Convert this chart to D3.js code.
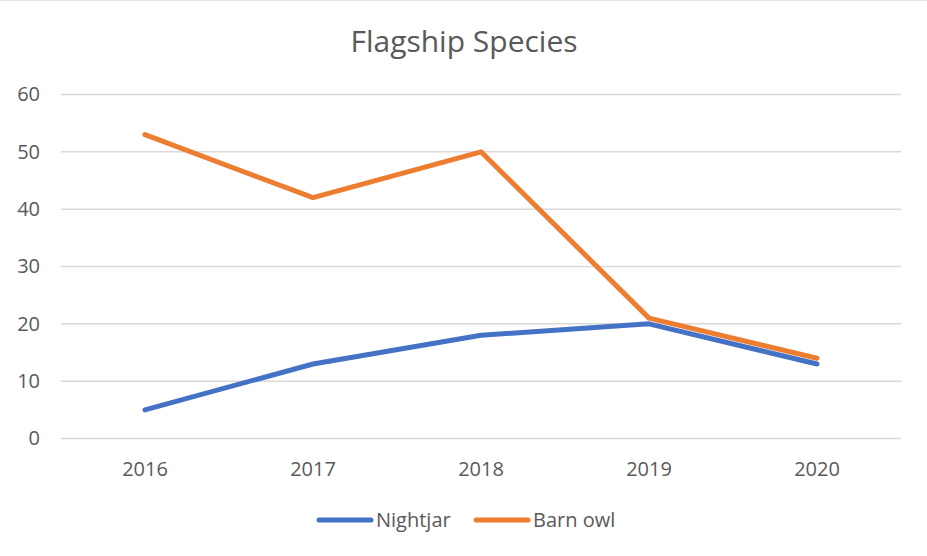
<!DOCTYPE html>
<html>
<head>
<meta charset="utf-8">
<script src="https://cdn.jsdelivr.net/npm/d3@7"></script>
<style>
  body { margin: 0; background: #fff; }
  svg { display: block; font-family: "Open Sans", "Noto Sans", sans-serif; }
</style>
</head>
<body>
<div id="root"></div>
<script>
const years = ["2016", "2017", "2018", "2019", "2020"];
const nightjar = [5, 13, 18, 20, 13];
const barnOwl = [53, 42, 50, 21, 14];
const yTicks = [0, 10, 20, 30, 40, 50, 60];

const seriesNames = ["Nightjar", "Barn owl"];
const seriesColors = ["#4472c4", "#ed7d31"];

const w = 927;
const h = 556;
const margin = { top: 95, bottom: 117, left: 61, right: 26 };

const svg = d3.select("#root")
    .append("svg")
    .attr("width", w)
    .attr("height", h);

// light border line on top of the image
svg.append("line")
    .attr("x1", 0).attr("x2", w)
    .attr("y1", 0.5).attr("y2", 0.5)
    .attr("stroke", "#e3e3e3");

// title
svg.append("text")
    .attr("x", 464)
    .attr("y", 52)
    .attr("text-anchor", "middle")
    .attr("fill", "#595959")
    .style("font-size", "30px")
    .text("Flagship Species");

const xScale = d3.scaleBand()
    .domain(years)
    .range([margin.left, w - margin.right]);

const yScale = d3.scaleLinear()
    .domain([0, 60])
    .range([h - margin.bottom - 0.5, margin.top - 0.5]);

// gridlines
svg.append("g")
    .selectAll("line")
    .data(yTicks)
    .enter()
    .append("line")
    .attr("x1", margin.left)
    .attr("x2", w - margin.right)
    .attr("y1", d => yScale(d))
    .attr("y2", d => yScale(d))
    .attr("stroke", "#d9d9d9")
    .attr("stroke-width", 1.5);

// y-axis labels
const yAxis = d3.axisLeft(yScale).tickValues(yTicks).tickSize(0).tickPadding(0);
svg.append("g")
    .attr("transform", "translate(" + 40 + ",0)")
    .call(yAxis)
    .call(g => g.select(".domain").remove())
    .call(g => g.selectAll("text")
        .attr("fill", "#595959")
        .style("font-size", "20px")
        .style("font-family", "'Open Sans', sans-serif"));

// x-axis labels
const xAxis = d3.axisBottom(xScale).tickSize(0).tickPadding(0);
svg.append("g")
    .attr("transform", "translate(0," + (h - margin.bottom + 23) + ")")
    .call(xAxis)
    .call(g => g.select(".domain").remove())
    .call(g => g.selectAll("text")
        .attr("fill", "#595959")
        .style("font-size", "20px")
        .style("font-family", "'Open Sans', sans-serif"));

// lines
const line = d3.line()
    .x((d, i) => xScale(years[i]) + xScale.bandwidth() / 2)
    .y(d => yScale(d));

[nightjar, barnOwl].forEach((s, i) => {
    svg.append("path")
        .datum(s)
        .attr("fill", "none")
        .attr("stroke", seriesColors[i])
        .attr("stroke-width", 5)
        .attr("stroke-linejoin", "round")
        .attr("stroke-linecap", "round")
        .attr("d", line);
});

// legend
const legendX = [319, 476];
const legend = svg.append("g");
seriesNames.forEach((name, i) => {
    legend.append("line")
        .attr("x1", legendX[i])
        .attr("x2", legendX[i] + 52)
        .attr("y1", 520)
        .attr("y2", 520)
        .attr("stroke", seriesColors[i])
        .attr("stroke-width", 5)
        .attr("stroke-linecap", "round");
    legend.append("text")
        .attr("x", legendX[i] + 57)
        .attr("y", 527)
        .attr("fill", "#595959")
        .style("font-size", "20px")
        .text(name);
});
</script>
</body>
</html>
